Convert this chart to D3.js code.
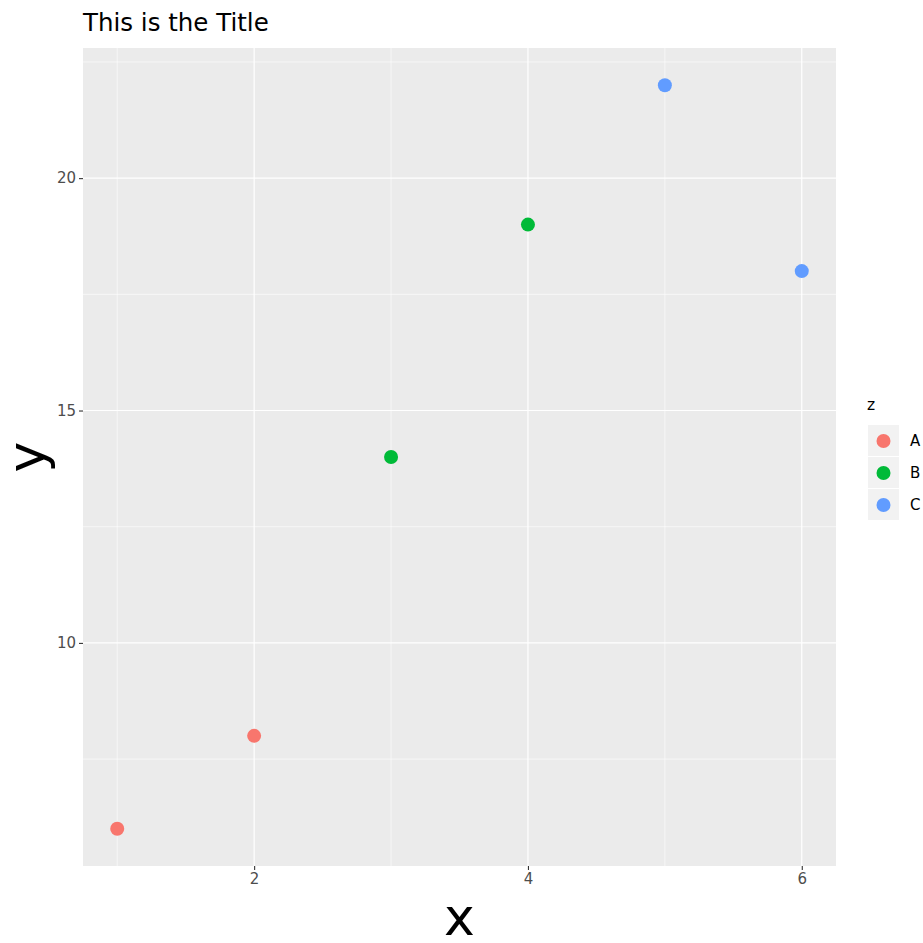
<!DOCTYPE html>
<html><head><meta charset="utf-8">
<script src="https://cdn.jsdelivr.net/npm/d3@7"></script>
<style>body{margin:0;background:#fff}svg{display:block;font-family:"DejaVu Sans",sans-serif}</style>
</head><body>
<svg id="c" width="923" height="943"></svg>
<script>
const xs = [1, 2, 3, 4, 5, 6];
const ys = [6, 8, 14, 19, 22, 18];
const zs = ["A", "A", "B", "B", "C", "C"];
const groups = ["A", "B", "C"];
const colors = ["#F8766D", "#00BA38", "#619CFF"];
const xTicks = [2, 4, 6];
const yTicks = [10, 15, 20];

const svg = d3.select("#c");
const L = 83, R = 836, T = 48, B = 866;
const x = d3.scaleLinear().domain([0.75, 6.25]).range([L, R]);
const y = d3.scaleLinear().domain([5.2, 22.8]).range([B, T]);
const col = d3.scaleOrdinal().domain(groups).range(colors);

svg.append("rect").attr("x", L).attr("y", T).attr("width", R - L).attr("height", B - T).attr("fill", "#EBEBEB");
const g = svg.append("g");
const xMinor = [1, 3, 5], yMinor = [7.5, 12.5, 17.5, 22.5];
xMinor.forEach(v => g.append("line").attr("x1", x(v)).attr("x2", x(v)).attr("y1", T).attr("y2", B).attr("stroke", "#fff").attr("stroke-width", 0.6));
yMinor.forEach(v => g.append("line").attr("y1", y(v)).attr("y2", y(v)).attr("x1", L).attr("x2", R).attr("stroke", "#fff").attr("stroke-width", 0.6));
xTicks.forEach(v => g.append("line").attr("x1", x(v)).attr("x2", x(v)).attr("y1", T).attr("y2", B).attr("stroke", "#fff").attr("stroke-width", 1.2));
yTicks.forEach(v => g.append("line").attr("y1", y(v)).attr("y2", y(v)).attr("x1", L).attr("x2", R).attr("stroke", "#fff").attr("stroke-width", 1.2));

const xAxis = svg.append("g").attr("transform", `translate(0,${B})`)
  .call(d3.axisBottom(x).tickValues(xTicks).tickSize(4).tickPadding(3).tickFormat(d3.format("d")));
const yAxis = svg.append("g").attr("transform", `translate(${L},0)`)
  .call(d3.axisLeft(y).tickValues(yTicks).tickSize(4).tickPadding(3).tickFormat(d3.format("d")));
[xAxis, yAxis].forEach(a => {
  a.select(".domain").remove();
  a.selectAll(".tick line").attr("stroke", "#333").attr("stroke-width", 1.1);
  a.selectAll(".tick text").attr("fill", "#4D4D4D").attr("font-size", 15).attr("font-family", "DejaVu Sans");
});

svg.append("g").selectAll("circle").data(xs.map((d, i) => ({x: d, y: ys[i], z: zs[i]})))
  .join("circle").attr("cx", d => x(d.x)).attr("cy", d => y(d.y)).attr("r", 7).attr("fill", d => col(d.z));

svg.append("text").attr("x", 83).attr("y", 31).attr("font-size", 24.5).attr("fill", "#000").text("This is the Title");
svg.append("text").attr("x", (L + R) / 2).attr("y", 935).attr("text-anchor", "middle").attr("font-size", 52).attr("fill", "#000").text("x");
svg.append("text").attr("transform", `translate(44,${(T + B) / 2}) rotate(-90)`).attr("text-anchor", "middle").attr("font-size", 52).attr("fill", "#000").text("y");

const lg = svg.append("g");
lg.append("text").attr("x", 867).attr("y", 410).attr("font-size", 15.5).attr("fill", "#000").text("z");
groups.forEach((k, i) => {
  const ky = 425 + i * 32;
  lg.append("rect").attr("x", 868).attr("y", ky).attr("width", 31).attr("height", 31).attr("fill", "#F2F2F2");
  lg.append("circle").attr("cx", 883.5).attr("cy", ky + 16).attr("r", 7).attr("fill", col(k));
  lg.append("text").attr("x", 910).attr("y", ky + 21).attr("font-size", 15).attr("fill", "#000").text(k);
});
</script>
</body></html>
